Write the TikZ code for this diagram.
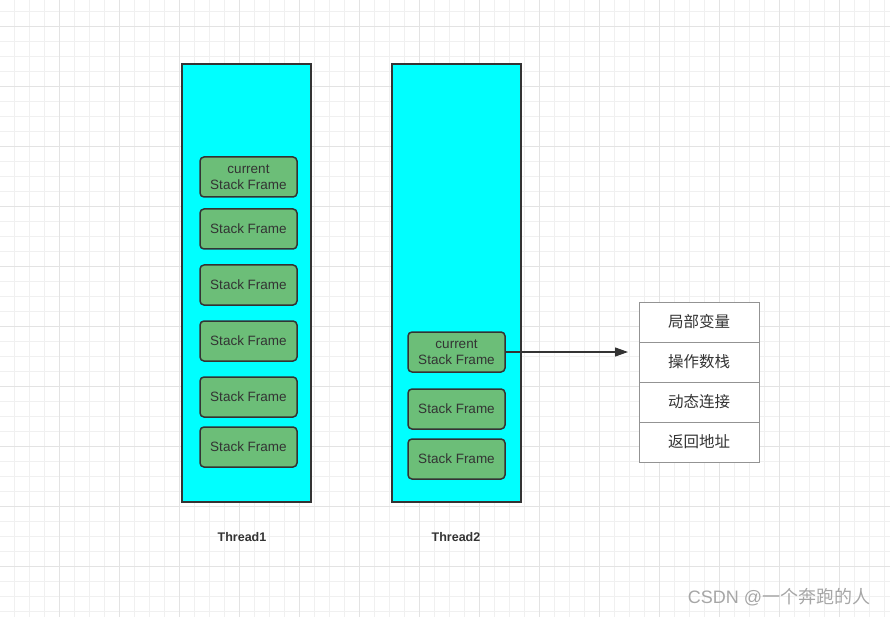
\documentclass[tikz,border=0pt]{standalone}
\usepackage{fontspec}
\usetikzlibrary{arrows.meta}
\setmainfont{Liberation Sans}
\newfontfamily\cjk{Noto Sans CJK SC}
\definecolor{framegreen}{HTML}{6CBE78}
\definecolor{threadcyan}{HTML}{00FFFF}
\definecolor{edge}{HTML}{333333}
\tikzset{
	thread/.style={draw=edge,line width=1.4pt,fill=threadcyan,minimum width=129pt,minimum height=438pt,inner sep=0pt},
	frame/.style={draw=edge,line width=1.5pt,fill=framegreen,rounded corners=4pt,minimum width=97pt,minimum height=40pt,inner sep=0pt,align=center,font=\fontsize{13.5}{16}\selectfont,text=edge},
	row/.style={draw=gray!85,line width=1pt,fill=white,minimum width=120pt,minimum height=40pt,inner sep=0pt,font=\cjk\fontsize{15.5}{17}\selectfont,text=edge},
}
\begin{document}
\begin{tikzpicture}[x=1pt,y=-1pt]
	\useasboundingbox(0,0)rectangle(890,617);
	% grid
	\foreach \x in {14,29,...,890} \draw[black!6,line width=0.8pt](\x,0)--(\x,617);
	\foreach \y in {11,26,...,617} \draw[black!6,line width=0.8pt](0,\y)--(890,\y);
	\foreach \x in {59,119,...,890} \draw[black!11,line width=0.8pt](\x,0)--(\x,617);
	\foreach \y in {26,86,...,617} \draw[black!11,line width=0.8pt](0,\y)--(890,\y);
	% threads
	\node[thread](t1)at(246.5,283){};
	\node[thread](t2)at(456.5,283){};
	\node[font=\bfseries\fontsize{12.5}{14}\selectfont,text=edge](l1)at(242,537){Thread1};
	\node[font=\bfseries\fontsize{12.5}{14}\selectfont,text=edge](l2)at(456,537){Thread2};
	% frames of thread 1
	\node[frame](a1)at(248.5,177){current\\Stack Frame};
	\node[frame](a2)at(248.5,229){Stack Frame};
	\node[frame](a3)at(248.5,285){Stack Frame};
	\node[frame](a4)at(248.5,341){Stack Frame};
	\node[frame](a5)at(248.5,397){Stack Frame};
	\node[frame](a6)at(248.5,447){Stack Frame};
	% frames of thread 2
	\node[frame](b1)at(456.5,352){current\\Stack Frame};
	\node[frame](b2)at(456.5,409){Stack Frame};
	\node[frame](b3)at(456.5,459){Stack Frame};
	% frame contents
	\node[row](r1)at(699,322){局部变量};
	\node[row](r2)at(699,362){操作数栈};
	\node[row](r3)at(699,402){动态连接};
	\node[row](r4)at(699,442){返回地址};
	\coordinate(tip)at(628,352);
	\draw[edge,line width=1.2pt,-{Triangle[length=13pt,width=9pt]}](b1.east)--(tip);
	\node[font=\fontsize{18}{20}\selectfont,text=gray!70](wm)at(779,597){CSDN @{\cjk 一个奔跑的人}};
\end{tikzpicture}
\end{document}
